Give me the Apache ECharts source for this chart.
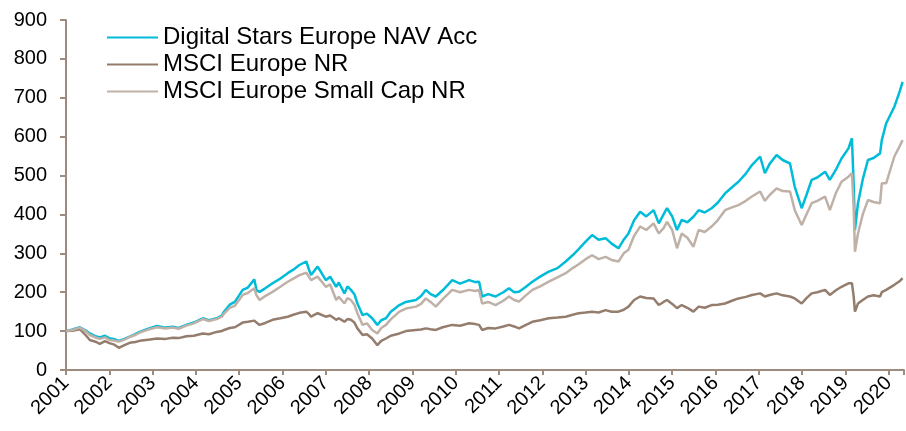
<!DOCTYPE html>
<html>
<head>
<meta charset="utf-8">
<script src="https://cdn.jsdelivr.net/npm/echarts@6/dist/echarts.min.js"></script>
<style>
  html, body { margin: 0; padding: 0; background: #fff; }
  #chart { width: 906px; height: 431px; }
</style>
</head>
<body>
<div id="chart"></div>
<script>
// dates as decimal years
const dates = [
  2001.00, 2001.15, 2001.32, 2001.45, 2001.55, 2001.70, 2001.78, 2001.90, 2002.00, 2002.10,
  2002.22, 2002.35, 2002.47, 2002.60, 2002.70, 2002.90, 2003.10, 2003.30, 2003.47, 2003.60,
  2003.78, 2003.95, 2004.16, 2004.30, 2004.48, 2004.60, 2004.65, 2004.78, 2004.90, 2005.08,
  2005.20, 2005.35, 2005.40, 2005.47, 2005.60, 2005.77, 2005.95, 2006.12, 2006.25, 2006.39,
  2006.55, 2006.62, 2006.66, 2006.81, 2006.90, 2007.00, 2007.10, 2007.24, 2007.30, 2007.43,
  2007.50, 2007.58, 2007.66, 2007.73, 2007.85, 2007.95, 2008.07, 2008.19, 2008.28, 2008.39,
  2008.50, 2008.70, 2008.85, 2009.08, 2009.20, 2009.31, 2009.42, 2009.54, 2009.70, 2009.92,
  2010.10, 2010.31, 2010.45, 2010.54, 2010.61, 2010.75, 2010.92, 2011.10, 2011.23, 2011.35,
  2011.46, 2011.60, 2011.77, 2011.95, 2012.15, 2012.35, 2012.54, 2012.70, 2012.84, 2013.00,
  2013.15, 2013.30, 2013.46, 2013.60, 2013.76, 2013.88, 2013.99, 2014.12, 2014.26, 2014.40,
  2014.57, 2014.69, 2014.80, 2014.88, 2015.00, 2015.11, 2015.22, 2015.35, 2015.49, 2015.61,
  2015.75, 2015.91, 2016.05, 2016.22, 2016.38, 2016.53, 2016.70, 2016.84, 2017.03, 2017.14,
  2017.25, 2017.41, 2017.55, 2017.72, 2017.83, 2017.99, 2018.10, 2018.22, 2018.35, 2018.53,
  2018.64, 2018.78, 2018.91, 2019.07, 2019.15, 2019.19, 2019.22, 2019.29, 2019.40, 2019.52,
  2019.65, 2019.80, 2019.84, 2019.94, 2020.13, 2020.25, 2020.32
]

const digitalStars = [
  100, 104, 110, 102, 94, 86, 84, 88, 82, 80,
  75, 80, 86, 92, 98, 106, 113, 109, 111, 108,
  116, 122, 133, 128, 133, 140, 150, 168, 175, 206,
  212, 233, 205, 201, 210, 223, 235, 249, 258, 270,
  279, 255, 244, 266, 250, 231, 240, 214, 225, 197,
  215, 206, 195, 171, 141, 145, 133, 116, 128, 133,
  150, 167, 175, 180, 190, 206, 195, 189, 205, 231,
  222, 231, 226, 227, 189, 195, 189, 200, 210, 200,
  201, 212, 227, 240, 253, 262, 279, 295, 311, 330,
  347, 335, 339, 325, 313, 335, 351, 385, 407, 395,
  411, 377, 400, 416, 395, 360, 386, 380, 394, 411,
  405, 416, 430, 454, 470, 484, 505, 527, 549, 506,
  530, 553, 540, 531, 471, 416, 450, 489, 495, 510,
  489, 515, 544, 570, 596, 480, 360, 429, 490, 540,
  545, 557, 591, 634, 677, 715, 741
]

const msciEurope = [
  100, 101, 105, 90, 77, 72, 67, 74, 69, 66,
  57, 64, 70, 72, 75, 78, 81, 80, 83, 82,
  87, 88, 94, 92, 98, 100, 103, 108, 110, 122,
  124, 127, 122, 116, 121, 129, 133, 137, 142, 147,
  150, 143, 137, 146, 142, 137, 140, 129, 133, 124,
  131, 129, 122, 107, 90, 92, 81, 64, 75, 81,
  88, 94, 100, 103, 104, 107, 105, 103, 110, 116,
  114, 120, 118, 116, 103, 108, 107, 112, 116, 112,
  107, 115, 124, 128, 133, 135, 137, 142, 146, 148,
  150, 148, 154, 150, 150, 155, 163, 180, 189, 185,
  184, 167, 175, 180, 170, 159, 167, 160, 150, 163,
  160, 167, 168, 171, 178, 184, 188, 193, 197, 189,
  193, 197, 192, 189, 184, 171, 185, 197, 200, 206,
  193, 205, 214, 223, 223, 190, 150, 171, 180, 189,
  192, 189, 200, 206, 219, 228, 236
]

const msciSmallCap = [
  100, 103, 109, 100, 90, 83, 80, 84, 77, 76,
  73, 78, 85, 90, 96, 104, 110, 107, 109, 106,
  114, 120, 131, 126, 131, 137, 145, 160, 165, 193,
  198, 210, 192, 180, 190, 201, 214, 227, 235, 244,
  250, 238, 231, 240, 228, 214, 220, 180, 188, 171,
  185, 180, 168, 146, 116, 120, 103, 94, 108, 116,
  130, 150, 158, 163, 170, 184, 175, 163, 182, 206,
  200, 206, 203, 206, 171, 175, 167, 178, 189, 180,
  176, 190, 206, 215, 227, 238, 249, 262, 272, 285,
  295, 285, 291, 283, 279, 300, 309, 345, 369, 360,
  377, 351, 365, 381, 360, 313, 351, 340, 317, 360,
  355, 369, 385, 411, 418, 424, 435, 446, 459, 435,
  450, 467, 460, 459, 411, 373, 400, 429, 435, 446,
  411, 455, 484, 497, 506, 420, 304, 351, 400, 437,
  432, 429, 480, 480, 549, 575, 591
]

const seriesNames = ['Digital Stars Europe NAV Acc', 'MSCI Europe NR', 'MSCI Europe Small Cap NR']
const seriesColors = ['#00bcd8', '#957d6d', '#bfb1a7']

function pairs(values) {
  return dates.map((d, i) => [d, values[i]])
}

const axisColor = '#9d8b7f'
const chart = echarts.init(document.getElementById('chart'))

const option = {
  animation: false,
  backgroundColor: '#fff',
  textStyle: { fontFamily: 'Liberation Sans, Arial, sans-serif' },
  grid: { left: 66, right: 0, top: 20, bottom: 61 },
  legend: {
    orient: 'vertical',
    left: 107,
    top: 24,
    padding: 0,
    itemWidth: 51,
    itemHeight: 2,
    itemGap: 0,
    icon: 'rect',
    data: seriesNames,
    textStyle: { fontSize: 24, color: '#000', lineHeight: 27 }
  },
  xAxis: {
    type: 'value',
    min: 2001,
    max: 2020.35,
    interval: 1,
    splitLine: { show: false },
    axisLine: { lineStyle: { color: axisColor, width: 2 } },
    axisTick: { length: 5, lineStyle: { color: axisColor, width: 2 } },
    axisLabel: {
      rotate: 45,
      margin: 10,
      fontSize: 20,
      color: '#000',
      formatter: v => Number.isInteger(v) ? String(v) : ''
    }
  },
  yAxis: {
    type: 'value',
    min: 0,
    max: 900,
    interval: 100,
    splitLine: { show: false },
    axisLine: { show: true, lineStyle: { color: axisColor, width: 2 } },
    axisTick: { show: true, length: 6, lineStyle: { color: axisColor, width: 2 } },
    axisLabel: { margin: 19, fontSize: 20, color: '#000' }
  },
  series: [
    { name: seriesNames[0], type: 'line', data: pairs(digitalStars) },
    { name: seriesNames[1], type: 'line', data: pairs(msciEurope) },
    { name: seriesNames[2], type: 'line', data: pairs(msciSmallCap) }
  ].map((s, i) => Object.assign(s, {
    symbol: 'none',
    color: seriesColors[i],
    lineStyle: { width: 2.5, color: seriesColors[i] }
  }))
}

chart.setOption(option)
</script>
</body>
</html>
